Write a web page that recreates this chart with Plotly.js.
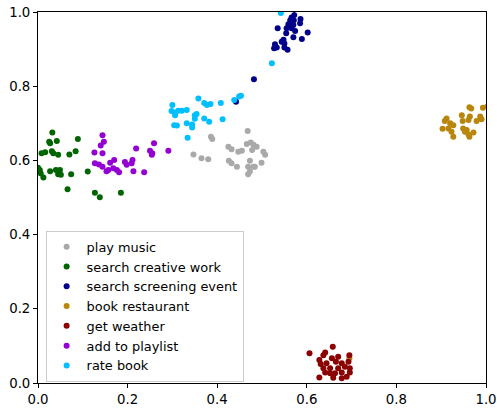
<!DOCTYPE html>
<html>
<head>
<meta charset="utf-8">
<script src="https://cdn.plot.ly/plotly-3.0.1.min.js"></script>
<style>
  html, body { margin: 0; padding: 0; background: #fff; }
  #chart { width: 497px; height: 409px; }
</style>
</head>
<body>
<div id="chart"></div>
<script>
// Series labels (legend order)
const seriesNames = ["play music", "search creative work", "search screening event", "book restaurant", "get weather", "add to playlist", "rate book"];

// play music
const playMusicX = [0.386,0.389,0.347,0.365,0.380,0.468,0.425,0.432,0.447,0.455,0.466,0.475,0.481,0.488,0.478,0.503,0.507,0.499,0.426,0.432,0.444,0.473,0.469,0.481,0.484,0.473,0.469];
const playMusicY = [0.664,0.658,0.616,0.606,0.603,0.679,0.637,0.630,0.623,0.626,0.644,0.648,0.642,0.637,0.628,0.623,0.615,0.594,0.599,0.592,0.583,0.599,0.583,0.583,0.583,0.570,0.563];

// search creative work
const creativeX = [0.032,0.025,0.027,0.042,0.089,0.016,0.008,0.031,0.034,0.045,0.070,0.084,0.004,0.006,0.012,0.027,0.040,0.049,0.045,0.051,0.074,0.111,0.066,0.127,0.138,0.185,-0.004,0.000];
const creativeY = [0.675,0.650,0.646,0.652,0.658,0.622,0.619,0.625,0.619,0.615,0.616,0.625,0.574,0.565,0.554,0.571,0.574,0.574,0.563,0.561,0.563,0.570,0.522,0.513,0.501,0.513,0.570,0.580];

// search screening event
const screeningX = [0.572,0.566,0.563,0.571,0.586,0.559,0.570,0.585,0.535,0.555,0.566,0.574,0.602,0.554,0.570,0.589,0.548,0.544,0.529,0.550,0.527,0.533,0.550,0.557,0.482,0.442];
const screeningY = [0.992,0.985,0.978,0.978,0.981,0.967,0.965,0.970,0.956,0.956,0.956,0.949,0.945,0.943,0.932,0.927,0.925,0.920,0.913,0.915,0.902,0.904,0.904,0.898,0.819,0.758];

// book restaurant
const restaurantX = [0.963,0.967,0.993,0.946,0.964,0.987,0.990,0.948,0.961,0.979,0.912,0.908,0.920,0.927,0.903,0.916,0.923,0.927,0.949,0.957,0.953,0.961,0.972,0.963,0.695,1.003];
const restaurantY = [0.743,0.740,0.742,0.722,0.718,0.718,0.711,0.706,0.709,0.706,0.713,0.706,0.700,0.695,0.685,0.686,0.677,0.664,0.686,0.682,0.677,0.670,0.675,0.664,0.067,0.745];

// get weather
const weatherX = [0.606,0.658,0.641,0.637,0.656,0.670,0.695,0.628,0.631,0.644,0.665,0.678,0.693,0.637,0.652,0.670,0.685,0.696,0.641,0.652,0.663,0.678,0.696,0.628,0.659,0.678,0.689];
const weatherY = [0.080,0.098,0.082,0.075,0.067,0.071,0.075,0.062,0.051,0.053,0.057,0.053,0.057,0.040,0.040,0.040,0.044,0.040,0.028,0.026,0.026,0.028,0.028,0.015,0.014,0.013,0.017];

// add to playlist
const playlistX = [0.144,0.147,0.140,0.126,0.144,0.219,0.259,0.250,0.255,0.254,0.291,0.127,0.136,0.144,0.157,0.161,0.170,0.168,0.176,0.153,0.194,0.198,0.211,0.209,0.213,0.181,0.237];
const playlistY = [0.668,0.650,0.640,0.621,0.619,0.632,0.646,0.626,0.619,0.615,0.626,0.592,0.589,0.583,0.574,0.594,0.601,0.579,0.574,0.571,0.596,0.588,0.601,0.592,0.571,0.568,0.568];

// rate book
const rateBookX = [0.358,0.371,0.377,0.385,0.408,0.438,0.449,0.453,0.300,0.298,0.306,0.313,0.321,0.332,0.306,0.350,0.354,0.350,0.371,0.382,0.412,0.332,0.344,0.344,0.304,0.310,0.334,0.522,0.542];
const rateBookY = [0.767,0.755,0.749,0.752,0.755,0.763,0.772,0.774,0.749,0.733,0.729,0.734,0.734,0.736,0.722,0.722,0.725,0.712,0.713,0.704,0.711,0.700,0.697,0.689,0.695,0.694,0.661,0.862,0.997];

const tickVals = [0, 0.2, 0.4, 0.6, 0.8, 1.0];
const tickLabels = ["0.0", "0.2", "0.4", "0.6", "0.8", "1.0"];

const xs = [playMusicX, creativeX, screeningX, restaurantX, weatherX, playlistX, rateBookX];
const ys = [playMusicY, creativeY, screeningY, restaurantY, weatherY, playlistY, rateBookY];
const colors = ["#a9a9a9", "#006400", "#00008b", "#b8860b", "#8b0000", "#9400d3", "#00bfff"];

const traces = seriesNames.map((name, i) => ({
  type: "scatter",
  mode: "markers",
  name: name,
  x: xs[i],
  y: ys[i],
  marker: { color: colors[i], size: 6, line: { width: 0 } },
  cliponaxis: true
}));

const FONT = "DejaVu Sans, sans-serif";

const axisCommon = {
  range: [0, 1],
  tickvals: tickVals,
  ticktext: tickLabels,
  ticks: "outside",
  ticklen: 4,
  tickwidth: 1,
  tickcolor: "#000",
  showline: true,
  linecolor: "#000",
  linewidth: 1,
  mirror: true,
  showgrid: false,
  zeroline: false,
  tickfont: { family: FONT, size: 13.3, color: "#000" },
  fixedrange: true
};

const layout = {
  width: 497,
  height: 409,
  margin: { l: 38, r: 11, t: 12, b: 26, pad: 0 },
  paper_bgcolor: "#fff",
  plot_bgcolor: "#fff",
  font: { family: FONT, size: 13.3, color: "#000" },
  xaxis: Object.assign({}, axisCommon),
  yaxis: Object.assign({}, axisCommon),
  showlegend: true,
  legend: {
    x: 0.017, y: 0.410, xanchor: "left", yanchor: "top",
    bgcolor: "rgba(255,255,255,0.8)",
    bordercolor: "#cccccc",
    borderwidth: 1,
    font: { family: FONT, size: 12.9, color: "#000" },
    itemclick: false, itemdoubleclick: false
  }
};

Plotly.newPlot("chart", traces, layout, { staticPlot: true, displayModeBar: false });
</script>
</body>
</html>
